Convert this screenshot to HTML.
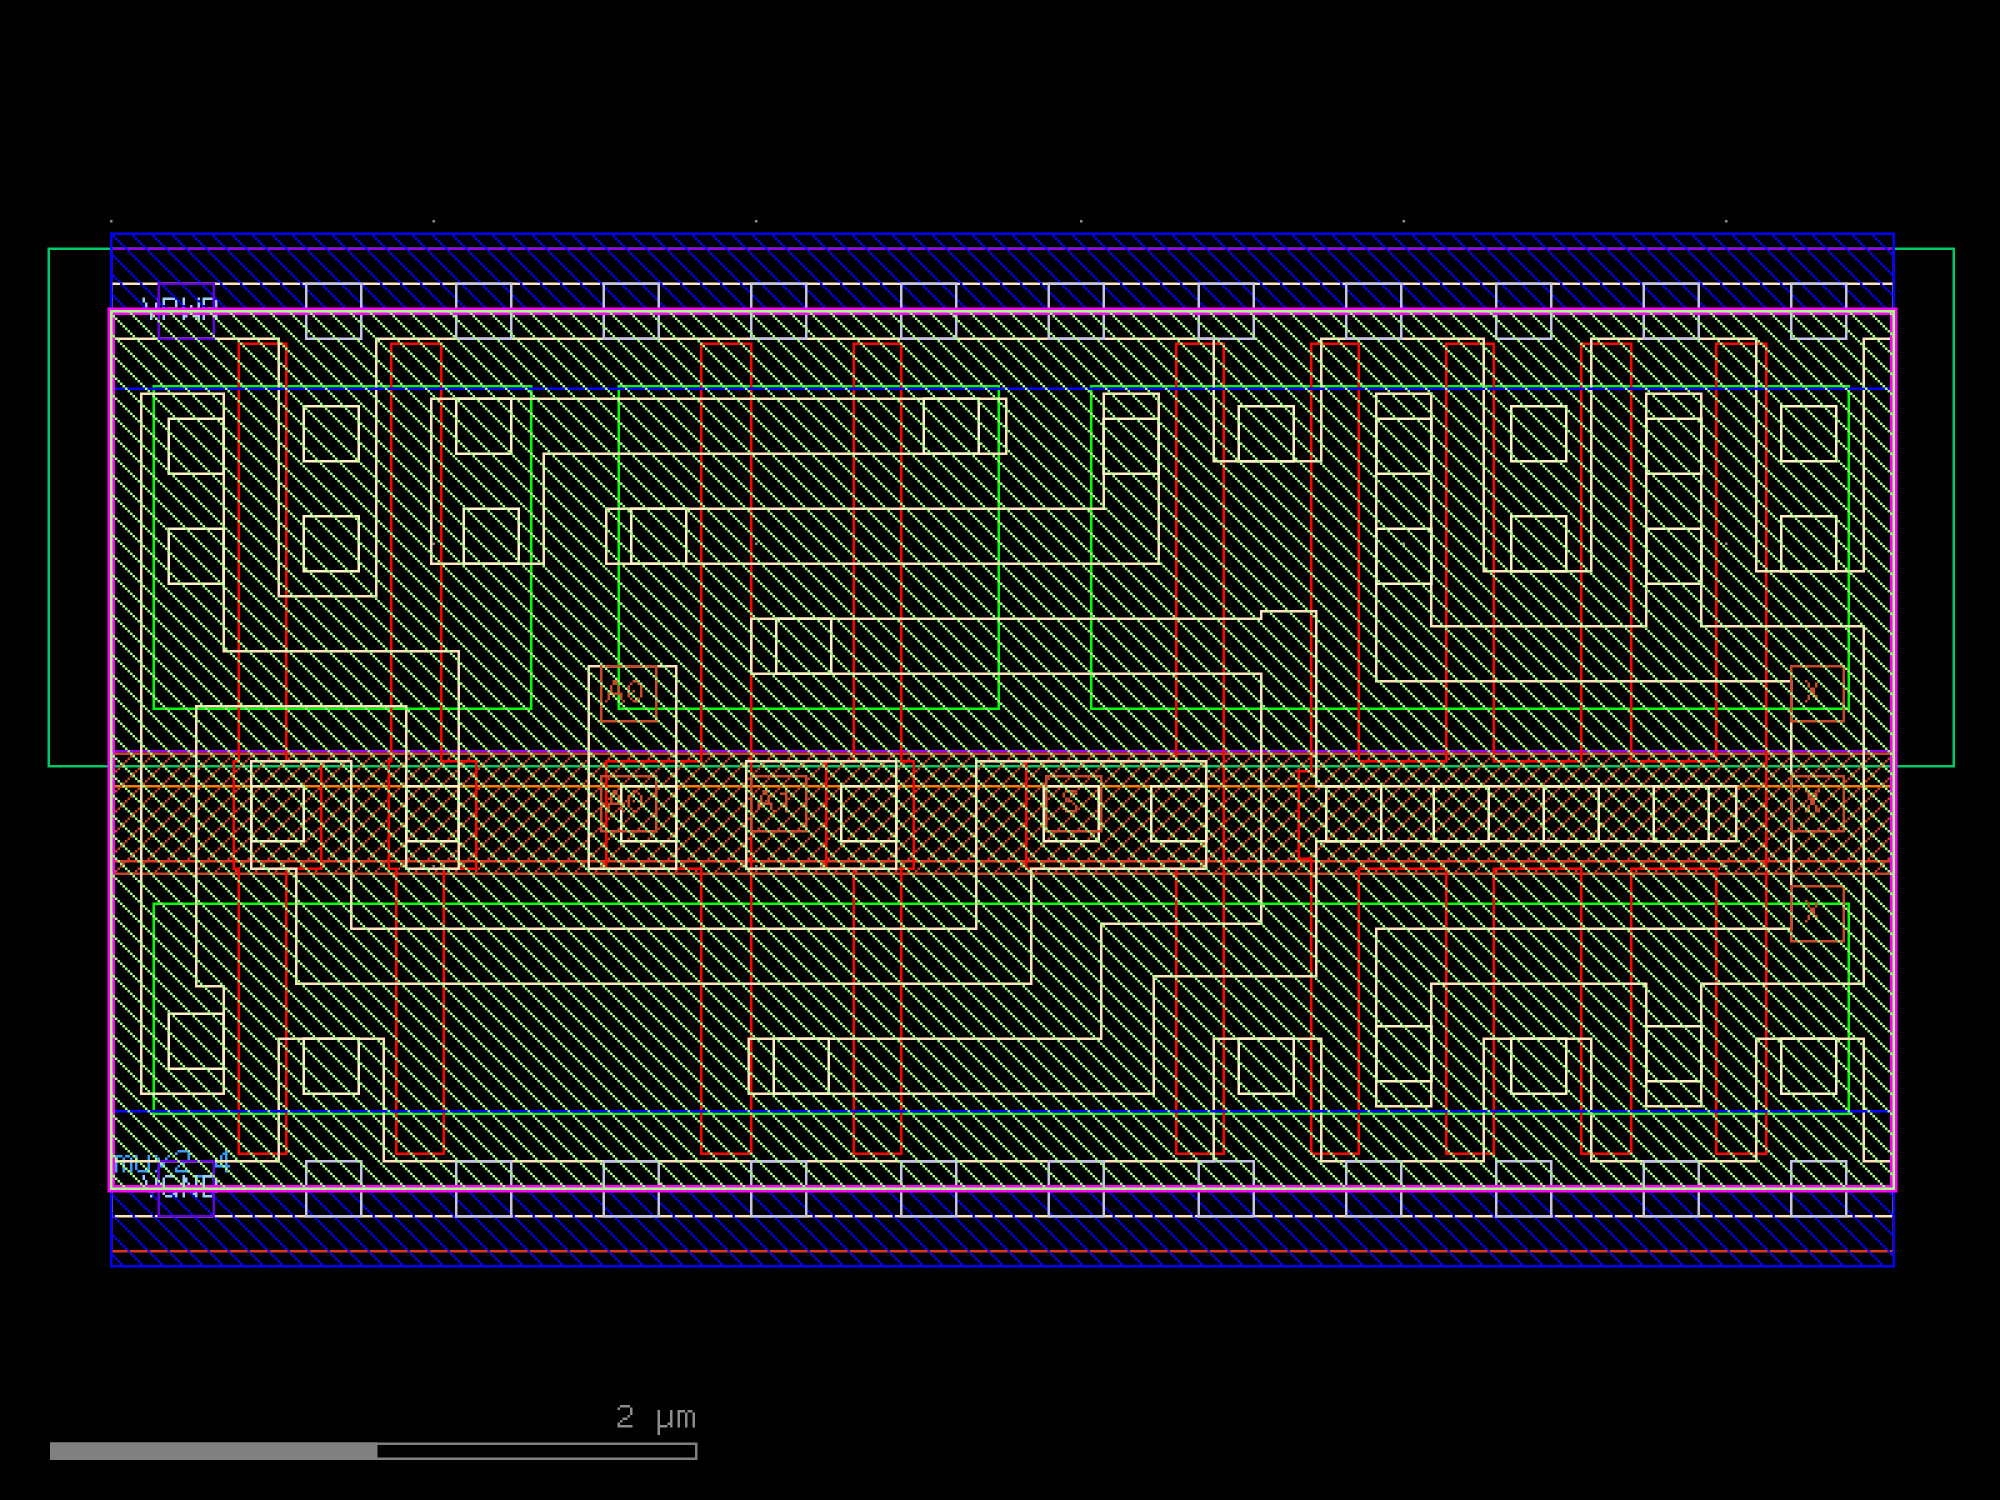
<!DOCTYPE html><html><head><meta charset="utf-8"><title>mux2_4</title><style>html,body{margin:0;padding:0;background:#000;width:2000px;height:1500px;overflow:hidden}svg{display:block}</style></head><body><svg width="2000" height="1500" viewBox="0 0 800 600"><defs><pattern id="hG" patternUnits="userSpaceOnUse" x="0" y="0" width="8" height="8"><rect x="7" y="0" width="1" height="1" fill="#a4ff84"/><rect x="0" y="1" width="1" height="1" fill="#a4ff84"/><rect x="1" y="2" width="1" height="1" fill="#a4ff84"/><rect x="2" y="3" width="1" height="1" fill="#a4ff84"/><rect x="3" y="4" width="1" height="1" fill="#a4ff84"/><rect x="4" y="5" width="1" height="1" fill="#a4ff84"/><rect x="5" y="6" width="1" height="1" fill="#a4ff84"/><rect x="6" y="7" width="1" height="1" fill="#a4ff84"/></pattern><pattern id="hB" patternUnits="userSpaceOnUse" x="0" y="0" width="8" height="8"><rect x="7" y="0" width="1" height="1" fill="#0000ff"/><rect x="0" y="1" width="1" height="1" fill="#0000ff"/><rect x="1" y="2" width="1" height="1" fill="#0000ff"/><rect x="2" y="3" width="1" height="1" fill="#0000ff"/><rect x="3" y="4" width="1" height="1" fill="#0000ff"/><rect x="4" y="5" width="1" height="1" fill="#0000ff"/><rect x="5" y="6" width="1" height="1" fill="#0000ff"/><rect x="6" y="7" width="1" height="1" fill="#0000ff"/></pattern><pattern id="hN" patternUnits="userSpaceOnUse" x="0" y="0" width="8" height="8"><rect x="2" y="0" width="1" height="1" fill="#c4442a"/><rect x="1" y="1" width="1" height="1" fill="#c4442a"/><rect x="0" y="2" width="1" height="1" fill="#c4442a"/><rect x="7" y="3" width="1" height="1" fill="#c4442a"/><rect x="6" y="4" width="1" height="1" fill="#c4442a"/><rect x="5" y="5" width="1" height="1" fill="#c4442a"/><rect x="4" y="6" width="1" height="1" fill="#c4442a"/><rect x="3" y="7" width="1" height="1" fill="#c4442a"/></pattern></defs><rect x="0" y="0" width="800" height="600" fill="#000"/><rect x="44" y="88" width="1" height="1" fill="#8c8c8c"/>
<rect x="44" y="217" width="1" height="1" fill="#8c8c8c"/>
<rect x="44" y="346" width="1" height="1" fill="#8c8c8c"/>
<rect x="173" y="88" width="1" height="1" fill="#8c8c8c"/>
<rect x="173" y="217" width="1" height="1" fill="#8c8c8c"/>
<rect x="173" y="346" width="1" height="1" fill="#8c8c8c"/>
<rect x="302" y="88" width="1" height="1" fill="#8c8c8c"/>
<rect x="302" y="217" width="1" height="1" fill="#8c8c8c"/>
<rect x="302" y="346" width="1" height="1" fill="#8c8c8c"/>
<rect x="432" y="88" width="1" height="1" fill="#8c8c8c"/>
<rect x="432" y="217" width="1" height="1" fill="#8c8c8c"/>
<rect x="432" y="346" width="1" height="1" fill="#8c8c8c"/>
<rect x="561" y="88" width="1" height="1" fill="#8c8c8c"/>
<rect x="561" y="217" width="1" height="1" fill="#8c8c8c"/>
<rect x="561" y="346" width="1" height="1" fill="#8c8c8c"/>
<rect x="690" y="88" width="1" height="1" fill="#8c8c8c"/>
<rect x="690" y="217" width="1" height="1" fill="#8c8c8c"/>
<rect x="690" y="346" width="1" height="1" fill="#8c8c8c"/>
<rect x="19.5" y="99.5" width="762" height="207" fill="none" stroke="#00c864" stroke-width="1"/>
<rect x="44.5" y="99.5" width="713" height="201" fill="none" stroke="#9600e6" stroke-width="1"/>
<rect x="44.5" y="344.5" width="713" height="156" fill="none" stroke="#e0341c" stroke-width="1"/>
<rect x="44" y="314" width="714" height="1" fill="#ff8000"/>
<rect x="44" y="301" width="714" height="49" fill="url(#hN)"/>
<rect x="44.5" y="301.5" width="713" height="48" fill="none" stroke="#c4442a" stroke-width="1"/>
<rect x="61.5" y="154.5" width="151" height="129" fill="none" stroke="#00ff00" stroke-width="1"/>
<rect x="247.5" y="154.5" width="152" height="129" fill="none" stroke="#00ff00" stroke-width="1"/>
<rect x="436.5" y="154.5" width="303" height="129" fill="none" stroke="#00ff00" stroke-width="1"/>
<rect x="61.5" y="361.5" width="678" height="84" fill="none" stroke="#00ff00" stroke-width="1"/>
<polygon points="95.5,137.5 114.5,137.5 114.5,304.5 128.5,304.5 128.5,347.5 114.5,347.5 114.5,461.5 95.5,461.5 95.5,347.5 93.5,347.5 93.5,304.5 95.5,304.5" fill="none" stroke="#ff0000" stroke-width="1"/>
<polygon points="156.5,137.5 176.5,137.5 176.5,304.5 190.5,304.5 190.5,347.5 177.5,347.5 177.5,461.5 158.5,461.5 158.5,347.5 155.5,347.5 155.5,304.5 156.5,304.5" fill="none" stroke="#ff0000" stroke-width="1"/>
<polygon points="280.5,137.5 300.5,137.5 300.5,461.5 280.5,461.5 280.5,347.5 242.5,347.5 242.5,304.5 280.5,304.5" fill="none" stroke="#ff0000" stroke-width="1"/>
<polygon points="341.5,137.5 360.5,137.5 360.5,304.5 365.5,304.5 365.5,347.5 360.5,347.5 360.5,461.5 341.5,461.5 341.5,347.5 330.5,347.5 330.5,304.5 341.5,304.5" fill="none" stroke="#ff0000" stroke-width="1"/>
<polygon points="470.5,137.5 489.5,137.5 489.5,461.5 470.5,461.5 470.5,347.5 410.5,347.5 410.5,304.5 470.5,304.5" fill="none" stroke="#ff0000" stroke-width="1"/>
<polygon points="524.5,137.5 543.5,137.5 543.5,304.5 578.5,304.5 578.5,137.5 597.5,137.5 597.5,304.5 632.5,304.5 632.5,137.5 652.5,137.5 652.5,304.5 686.5,304.5 686.5,137.5 706.5,137.5 706.5,461.5 686.5,461.5 686.5,347.5 652.5,347.5 652.5,461.5 632.5,461.5 632.5,347.5 597.5,347.5 597.5,461.5 578.5,461.5 578.5,347.5 543.5,347.5 543.5,461.5 524.5,461.5 524.5,343.5 519.5,343.5 519.5,308.5 524.5,308.5" fill="none" stroke="#ff0000" stroke-width="1"/>
<path d="M46 462h1v1h-1zM47 462h1v1h-1zM48 462h1v1h-1zM50 462h1v1h-1zM51 462h1v1h-1zM46 463h1v1h-1zM49 463h1v1h-1zM52 463h1v1h-1zM46 464h1v1h-1zM49 464h1v1h-1zM52 464h1v1h-1zM46 465h1v1h-1zM49 465h1v1h-1zM52 465h1v1h-1zM46 466h1v1h-1zM49 466h1v1h-1zM52 466h1v1h-1zM46 467h1v1h-1zM49 467h1v1h-1zM52 467h1v1h-1zM46 468h1v1h-1zM49 468h1v1h-1zM52 468h1v1h-1zM54 462h1v1h-1zM59 462h1v1h-1zM54 463h1v1h-1zM59 463h1v1h-1zM54 464h1v1h-1zM59 464h1v1h-1zM54 465h1v1h-1zM59 465h1v1h-1zM54 466h1v1h-1zM59 466h1v1h-1zM54 467h1v1h-1zM59 467h1v1h-1zM55 468h1v1h-1zM56 468h1v1h-1zM57 468h1v1h-1zM58 468h1v1h-1zM59 468h1v1h-1zM62 462h1v1h-1zM67 462h1v1h-1zM63 463h1v1h-1zM66 463h1v1h-1zM64 464h1v1h-1zM65 464h1v1h-1zM64 465h1v1h-1zM65 465h1v1h-1zM64 466h1v1h-1zM65 466h1v1h-1zM63 467h1v1h-1zM66 467h1v1h-1zM62 468h1v1h-1zM67 468h1v1h-1zM71 460h1v1h-1zM72 460h1v1h-1zM73 460h1v1h-1zM74 460h1v1h-1zM70 461h1v1h-1zM75 461h1v1h-1zM75 462h1v1h-1zM75 463h1v1h-1zM74 464h1v1h-1zM72 465h1v1h-1zM73 465h1v1h-1zM71 466h1v1h-1zM70 467h1v1h-1zM70 468h1v1h-1zM71 468h1v1h-1zM72 468h1v1h-1zM73 468h1v1h-1zM74 468h1v1h-1zM75 468h1v1h-1zM78 470h1v1h-1zM79 470h1v1h-1zM80 470h1v1h-1zM81 470h1v1h-1zM82 470h1v1h-1zM83 470h1v1h-1zM84 470h1v1h-1zM90 460h1v1h-1zM89 461h1v1h-1zM90 461h1v1h-1zM88 462h1v1h-1zM90 462h1v1h-1zM88 463h1v1h-1zM90 463h1v1h-1zM87 464h1v1h-1zM90 464h1v1h-1zM86 465h1v1h-1zM90 465h1v1h-1zM86 466h1v1h-1zM87 466h1v1h-1zM88 466h1v1h-1zM89 466h1v1h-1zM90 466h1v1h-1zM91 466h1v1h-1zM90 467h1v1h-1zM90 468h1v1h-1z" fill="#3a9cff"/>
<path d="M57 119h1v1h-1zM63 119h1v1h-1zM57 120h1v1h-1zM63 120h1v1h-1zM58 121h1v1h-1zM62 121h1v1h-1zM58 122h1v1h-1zM62 122h1v1h-1zM58 123h1v1h-1zM62 123h1v1h-1zM59 124h1v1h-1zM61 124h1v1h-1zM59 125h1v1h-1zM61 125h1v1h-1zM60 126h1v1h-1zM60 127h1v1h-1zM65 119h1v1h-1zM66 119h1v1h-1zM67 119h1v1h-1zM68 119h1v1h-1zM69 119h1v1h-1zM65 120h1v1h-1zM70 120h1v1h-1zM65 121h1v1h-1zM70 121h1v1h-1zM65 122h1v1h-1zM70 122h1v1h-1zM65 123h1v1h-1zM66 123h1v1h-1zM67 123h1v1h-1zM68 123h1v1h-1zM69 123h1v1h-1zM65 124h1v1h-1zM65 125h1v1h-1zM65 126h1v1h-1zM65 127h1v1h-1zM73 119h1v1h-1zM79 119h1v1h-1zM73 120h1v1h-1zM79 120h1v1h-1zM73 121h1v1h-1zM79 121h1v1h-1zM73 122h1v1h-1zM76 122h1v1h-1zM79 122h1v1h-1zM73 123h1v1h-1zM76 123h1v1h-1zM79 123h1v1h-1zM73 124h1v1h-1zM76 124h1v1h-1zM79 124h1v1h-1zM73 125h1v1h-1zM75 125h1v1h-1zM77 125h1v1h-1zM79 125h1v1h-1zM73 126h1v1h-1zM74 126h1v1h-1zM78 126h1v1h-1zM79 126h1v1h-1zM73 127h1v1h-1zM79 127h1v1h-1zM81 119h1v1h-1zM82 119h1v1h-1zM83 119h1v1h-1zM84 119h1v1h-1zM85 119h1v1h-1zM81 120h1v1h-1zM86 120h1v1h-1zM81 121h1v1h-1zM86 121h1v1h-1zM81 122h1v1h-1zM86 122h1v1h-1zM81 123h1v1h-1zM82 123h1v1h-1zM83 123h1v1h-1zM84 123h1v1h-1zM85 123h1v1h-1zM81 124h1v1h-1zM84 124h1v1h-1zM81 125h1v1h-1zM85 125h1v1h-1zM81 126h1v1h-1zM86 126h1v1h-1zM81 127h1v1h-1zM86 127h1v1h-1z" fill="#9ccfff"/>
<path d="M57 470h1v1h-1zM63 470h1v1h-1zM57 471h1v1h-1zM63 471h1v1h-1zM58 472h1v1h-1zM62 472h1v1h-1zM58 473h1v1h-1zM62 473h1v1h-1zM58 474h1v1h-1zM62 474h1v1h-1zM59 475h1v1h-1zM61 475h1v1h-1zM59 476h1v1h-1zM61 476h1v1h-1zM60 477h1v1h-1zM60 478h1v1h-1zM66 470h1v1h-1zM67 470h1v1h-1zM68 470h1v1h-1zM69 470h1v1h-1zM65 471h1v1h-1zM70 471h1v1h-1zM65 472h1v1h-1zM65 473h1v1h-1zM65 474h1v1h-1zM68 474h1v1h-1zM69 474h1v1h-1zM70 474h1v1h-1zM65 475h1v1h-1zM70 475h1v1h-1zM65 476h1v1h-1zM70 476h1v1h-1zM65 477h1v1h-1zM69 477h1v1h-1zM70 477h1v1h-1zM66 478h1v1h-1zM67 478h1v1h-1zM68 478h1v1h-1zM70 478h1v1h-1zM73 470h1v1h-1zM78 470h1v1h-1zM73 471h1v1h-1zM74 471h1v1h-1zM78 471h1v1h-1zM73 472h1v1h-1zM74 472h1v1h-1zM78 472h1v1h-1zM73 473h1v1h-1zM75 473h1v1h-1zM78 473h1v1h-1zM73 474h1v1h-1zM75 474h1v1h-1zM78 474h1v1h-1zM73 475h1v1h-1zM76 475h1v1h-1zM78 475h1v1h-1zM73 476h1v1h-1zM76 476h1v1h-1zM78 476h1v1h-1zM73 477h1v1h-1zM77 477h1v1h-1zM78 477h1v1h-1zM73 478h1v1h-1zM78 478h1v1h-1zM81 470h1v1h-1zM82 470h1v1h-1zM83 470h1v1h-1zM84 470h1v1h-1zM81 471h1v1h-1zM85 471h1v1h-1zM81 472h1v1h-1zM86 472h1v1h-1zM81 473h1v1h-1zM86 473h1v1h-1zM81 474h1v1h-1zM86 474h1v1h-1zM81 475h1v1h-1zM86 475h1v1h-1zM81 476h1v1h-1zM86 476h1v1h-1zM81 477h1v1h-1zM85 477h1v1h-1zM81 478h1v1h-1zM82 478h1v1h-1zM83 478h1v1h-1zM84 478h1v1h-1z" fill="#9ccfff"/>
<polygon points="44.5,113.5 757.5,113.5 757.5,135.5 745.5,135.5 745.5,228.5 702.5,228.5 702.5,135.5 636.5,135.5 636.5,228.5 593.5,228.5 593.5,135.5 528.5,135.5 528.5,184.5 485.5,184.5 485.5,135.5 150.5,135.5 150.5,238.5 111.5,238.5 111.5,135.5 44.5,135.5" fill="none" stroke="#ffe4bc" stroke-width="1"/>
<polygon points="44.5,486.5 757.5,486.5 757.5,464.5 745.5,464.5 745.5,415.5 702.5,415.5 702.5,464.5 636.5,464.5 636.5,415.5 593.5,415.5 593.5,464.5 528.5,464.5 528.5,415.5 485.5,415.5 485.5,464.5 153.5,464.5 153.5,415.5 111.5,415.5 111.5,464.5 44.5,464.5" fill="none" stroke="#ffe4bc" stroke-width="1"/>
<polygon points="56.5,157.5 89.5,157.5 89.5,260.5 183.5,260.5 183.5,347.5 162.5,347.5 162.5,282.5 78.5,282.5 78.5,394.5 89.5,394.5 89.5,437.5 56.5,437.5" fill="none" stroke="#ffe4bc" stroke-width="1"/>
<polygon points="172.5,159.5 402.5,159.5 402.5,181.5 217.5,181.5 217.5,225.5 172.5,225.5" fill="none" stroke="#ffe4bc" stroke-width="1"/>
<polygon points="242.5,203.5 441.5,203.5 441.5,157.5 463.5,157.5 463.5,225.5 242.5,225.5" fill="none" stroke="#ffe4bc" stroke-width="1"/>
<polygon points="100.5,304.5 140.5,304.5 140.5,371.5 390.5,371.5 390.5,304.5 482.5,304.5 482.5,347.5 412.5,347.5 412.5,393.5 118.5,393.5 118.5,347.5 100.5,347.5" fill="none" stroke="#ffe4bc" stroke-width="1"/>
<polygon points="298.5,304.5 358.5,304.5 358.5,347.5 298.5,347.5" fill="none" stroke="#ffe4bc" stroke-width="1"/>
<polygon points="235.5,266.5 270.5,266.5 270.5,347.5 235.5,347.5" fill="none" stroke="#ffe4bc" stroke-width="1"/>
<polygon points="300.5,247.5 504.5,247.5 504.5,244.5 526.5,244.5 526.5,314.5 694.5,314.5 694.5,336.5 526.5,336.5 526.5,390.5 461.5,390.5 461.5,437.5 299.5,437.5 299.5,415.5 440.5,415.5 440.5,369.5 504.5,369.5 504.5,269.5 300.5,269.5" fill="none" stroke="#ffe4bc" stroke-width="1"/>
<polygon points="550.5,157.5 572.5,157.5 572.5,250.5 658.5,250.5 658.5,157.5 680.5,157.5 680.5,250.5 745.5,250.5 745.5,393.5 680.5,393.5 680.5,442.5 658.5,442.5 658.5,393.5 572.5,393.5 572.5,442.5 550.5,442.5 550.5,371.5 716.5,371.5 716.5,272.5 550.5,272.5" fill="none" stroke="#ffe4bc" stroke-width="1"/>
<rect x="67.5" y="167.5" width="22" height="22" fill="none" stroke="#fff2c4" stroke-width="1"/>
<rect x="67.5" y="211.5" width="22" height="22" fill="none" stroke="#fff2c4" stroke-width="1"/>
<rect x="121.5" y="162.5" width="22" height="22" fill="none" stroke="#fff2c4" stroke-width="1"/>
<rect x="121.5" y="206.5" width="22" height="22" fill="none" stroke="#fff2c4" stroke-width="1"/>
<rect x="182.5" y="159.5" width="22" height="22" fill="none" stroke="#fff2c4" stroke-width="1"/>
<rect x="185.5" y="203.5" width="22" height="22" fill="none" stroke="#fff2c4" stroke-width="1"/>
<rect x="252.5" y="203.5" width="22" height="22" fill="none" stroke="#fff2c4" stroke-width="1"/>
<rect x="369.5" y="159.5" width="22" height="22" fill="none" stroke="#fff2c4" stroke-width="1"/>
<rect x="441.5" y="167.5" width="22" height="22" fill="none" stroke="#fff2c4" stroke-width="1"/>
<rect x="495.5" y="162.5" width="22" height="22" fill="none" stroke="#fff2c4" stroke-width="1"/>
<rect x="550.5" y="167.5" width="22" height="22" fill="none" stroke="#fff2c4" stroke-width="1"/>
<rect x="550.5" y="211.5" width="22" height="22" fill="none" stroke="#fff2c4" stroke-width="1"/>
<rect x="604.5" y="162.5" width="22" height="22" fill="none" stroke="#fff2c4" stroke-width="1"/>
<rect x="604.5" y="206.5" width="22" height="22" fill="none" stroke="#fff2c4" stroke-width="1"/>
<rect x="658.5" y="167.5" width="22" height="22" fill="none" stroke="#fff2c4" stroke-width="1"/>
<rect x="658.5" y="211.5" width="22" height="22" fill="none" stroke="#fff2c4" stroke-width="1"/>
<rect x="712.5" y="162.5" width="22" height="22" fill="none" stroke="#fff2c4" stroke-width="1"/>
<rect x="712.5" y="206.5" width="22" height="22" fill="none" stroke="#fff2c4" stroke-width="1"/>
<rect x="310.5" y="247.5" width="22" height="22" fill="none" stroke="#fff2c4" stroke-width="1"/>
<rect x="100.5" y="314.5" width="21" height="22" fill="none" stroke="#fff2c4" stroke-width="1"/>
<rect x="162.5" y="314.5" width="21" height="22" fill="none" stroke="#fff2c4" stroke-width="1"/>
<rect x="248.5" y="314.5" width="22" height="22" fill="none" stroke="#fff2c4" stroke-width="1"/>
<rect x="336.5" y="314.5" width="22" height="22" fill="none" stroke="#fff2c4" stroke-width="1"/>
<rect x="417.5" y="314.5" width="22" height="22" fill="none" stroke="#fff2c4" stroke-width="1"/>
<rect x="460.5" y="314.5" width="22" height="22" fill="none" stroke="#fff2c4" stroke-width="1"/>
<rect x="530.5" y="314.5" width="22" height="22" fill="none" stroke="#fff2c4" stroke-width="1"/>
<rect x="573.5" y="314.5" width="22" height="22" fill="none" stroke="#fff2c4" stroke-width="1"/>
<rect x="617.5" y="314.5" width="22" height="22" fill="none" stroke="#fff2c4" stroke-width="1"/>
<rect x="661.5" y="314.5" width="22" height="22" fill="none" stroke="#fff2c4" stroke-width="1"/>
<rect x="67.5" y="405.5" width="22" height="22" fill="none" stroke="#fff2c4" stroke-width="1"/>
<rect x="121.5" y="415.5" width="22" height="22" fill="none" stroke="#fff2c4" stroke-width="1"/>
<rect x="309.5" y="415.5" width="22" height="22" fill="none" stroke="#fff2c4" stroke-width="1"/>
<rect x="495.5" y="415.5" width="22" height="22" fill="none" stroke="#fff2c4" stroke-width="1"/>
<rect x="550.5" y="410.5" width="22" height="22" fill="none" stroke="#fff2c4" stroke-width="1"/>
<rect x="604.5" y="415.5" width="22" height="22" fill="none" stroke="#fff2c4" stroke-width="1"/>
<rect x="658.5" y="410.5" width="22" height="22" fill="none" stroke="#fff2c4" stroke-width="1"/>
<rect x="712.5" y="415.5" width="22" height="22" fill="none" stroke="#fff2c4" stroke-width="1"/>
<rect x="44" y="93" width="714" height="31" fill="url(#hB)"/>
<rect x="44.5" y="93.5" width="713" height="62" fill="none" stroke="#0000ff" stroke-width="1"/>
<rect x="44" y="476" width="714" height="31" fill="url(#hB)"/>
<rect x="44.5" y="444.5" width="713" height="62" fill="none" stroke="#0000ff" stroke-width="1"/>
<rect x="122.5" y="113.5" width="22" height="22" fill="none" stroke="#c4c4e4" stroke-width="1"/>
<rect x="122.5" y="464.5" width="22" height="22" fill="none" stroke="#c4c4e4" stroke-width="1"/>
<rect x="182.5" y="113.5" width="22" height="22" fill="none" stroke="#c4c4e4" stroke-width="1"/>
<rect x="182.5" y="464.5" width="22" height="22" fill="none" stroke="#c4c4e4" stroke-width="1"/>
<rect x="241.5" y="113.5" width="22" height="22" fill="none" stroke="#c4c4e4" stroke-width="1"/>
<rect x="241.5" y="464.5" width="22" height="22" fill="none" stroke="#c4c4e4" stroke-width="1"/>
<rect x="300.5" y="113.5" width="22" height="22" fill="none" stroke="#c4c4e4" stroke-width="1"/>
<rect x="300.5" y="464.5" width="22" height="22" fill="none" stroke="#c4c4e4" stroke-width="1"/>
<rect x="360.5" y="113.5" width="22" height="22" fill="none" stroke="#c4c4e4" stroke-width="1"/>
<rect x="360.5" y="464.5" width="22" height="22" fill="none" stroke="#c4c4e4" stroke-width="1"/>
<rect x="419.5" y="113.5" width="22" height="22" fill="none" stroke="#c4c4e4" stroke-width="1"/>
<rect x="419.5" y="464.5" width="22" height="22" fill="none" stroke="#c4c4e4" stroke-width="1"/>
<rect x="479.5" y="113.5" width="22" height="22" fill="none" stroke="#c4c4e4" stroke-width="1"/>
<rect x="479.5" y="464.5" width="22" height="22" fill="none" stroke="#c4c4e4" stroke-width="1"/>
<rect x="538.5" y="113.5" width="22" height="22" fill="none" stroke="#c4c4e4" stroke-width="1"/>
<rect x="538.5" y="464.5" width="22" height="22" fill="none" stroke="#c4c4e4" stroke-width="1"/>
<rect x="598.5" y="113.5" width="22" height="22" fill="none" stroke="#c4c4e4" stroke-width="1"/>
<rect x="598.5" y="464.5" width="22" height="22" fill="none" stroke="#c4c4e4" stroke-width="1"/>
<rect x="657.5" y="113.5" width="22" height="22" fill="none" stroke="#c4c4e4" stroke-width="1"/>
<rect x="657.5" y="464.5" width="22" height="22" fill="none" stroke="#c4c4e4" stroke-width="1"/>
<rect x="716.5" y="113.5" width="22" height="22" fill="none" stroke="#c4c4e4" stroke-width="1"/>
<rect x="716.5" y="464.5" width="22" height="22" fill="none" stroke="#c4c4e4" stroke-width="1"/>
<rect x="63.5" y="113.5" width="22" height="22" fill="none" stroke="#6400e0" stroke-width="1"/>
<rect x="63.5" y="464.5" width="22" height="22" fill="none" stroke="#6400e0" stroke-width="1"/>
<rect x="240.5" y="266.5" width="22" height="22" fill="none" stroke="#c44a2a" stroke-width="1"/>
<path d="M245 272h1v1h-1zM246 272h1v1h-1zM245 273h1v1h-1zM246 273h1v1h-1zM244 274h1v1h-1zM247 274h1v1h-1zM244 275h1v1h-1zM247 275h1v1h-1zM244 276h1v1h-1zM247 276h1v1h-1zM243 277h1v1h-1zM244 277h1v1h-1zM245 277h1v1h-1zM246 277h1v1h-1zM247 277h1v1h-1zM248 277h1v1h-1zM243 278h1v1h-1zM248 278h1v1h-1zM243 279h1v1h-1zM248 279h1v1h-1zM242 280h1v1h-1zM249 280h1v1h-1zM253 272h1v1h-1zM254 272h1v1h-1zM252 273h1v1h-1zM255 273h1v1h-1zM251 274h1v1h-1zM256 274h1v1h-1zM251 275h1v1h-1zM256 275h1v1h-1zM251 276h1v1h-1zM253 276h1v1h-1zM256 276h1v1h-1zM251 277h1v1h-1zM256 277h1v1h-1zM251 278h1v1h-1zM256 278h1v1h-1zM252 279h1v1h-1zM255 279h1v1h-1zM253 280h1v1h-1zM254 280h1v1h-1z" fill="#c44a2a"/>
<rect x="240.5" y="310.5" width="22" height="22" fill="none" stroke="#c44a2a" stroke-width="1"/>
<path d="M245 316h1v1h-1zM246 316h1v1h-1zM245 317h1v1h-1zM246 317h1v1h-1zM244 318h1v1h-1zM247 318h1v1h-1zM244 319h1v1h-1zM247 319h1v1h-1zM244 320h1v1h-1zM247 320h1v1h-1zM243 321h1v1h-1zM244 321h1v1h-1zM245 321h1v1h-1zM246 321h1v1h-1zM247 321h1v1h-1zM248 321h1v1h-1zM243 322h1v1h-1zM248 322h1v1h-1zM243 323h1v1h-1zM248 323h1v1h-1zM242 324h1v1h-1zM249 324h1v1h-1zM253 316h1v1h-1zM254 316h1v1h-1zM252 317h1v1h-1zM255 317h1v1h-1zM251 318h1v1h-1zM256 318h1v1h-1zM251 319h1v1h-1zM256 319h1v1h-1zM251 320h1v1h-1zM253 320h1v1h-1zM256 320h1v1h-1zM251 321h1v1h-1zM256 321h1v1h-1zM251 322h1v1h-1zM256 322h1v1h-1zM252 323h1v1h-1zM255 323h1v1h-1zM253 324h1v1h-1zM254 324h1v1h-1z" fill="#c44a2a"/>
<rect x="300.5" y="310.5" width="22" height="22" fill="none" stroke="#c44a2a" stroke-width="1"/>
<path d="M305 316h1v1h-1zM306 316h1v1h-1zM305 317h1v1h-1zM306 317h1v1h-1zM304 318h1v1h-1zM307 318h1v1h-1zM304 319h1v1h-1zM307 319h1v1h-1zM304 320h1v1h-1zM307 320h1v1h-1zM303 321h1v1h-1zM304 321h1v1h-1zM305 321h1v1h-1zM306 321h1v1h-1zM307 321h1v1h-1zM308 321h1v1h-1zM303 322h1v1h-1zM308 322h1v1h-1zM303 323h1v1h-1zM308 323h1v1h-1zM302 324h1v1h-1zM309 324h1v1h-1zM314 316h1v1h-1zM312 317h1v1h-1zM313 317h1v1h-1zM314 317h1v1h-1zM314 318h1v1h-1zM314 319h1v1h-1zM314 320h1v1h-1zM314 321h1v1h-1zM314 322h1v1h-1zM314 323h1v1h-1zM314 324h1v1h-1z" fill="#c44a2a"/>
<rect x="418.5" y="310.5" width="22" height="22" fill="none" stroke="#c44a2a" stroke-width="1"/>
<path d="M426 316h1v1h-1zM427 316h1v1h-1zM428 316h1v1h-1zM429 316h1v1h-1zM425 317h1v1h-1zM430 317h1v1h-1zM425 318h1v1h-1zM426 319h1v1h-1zM427 320h1v1h-1zM428 320h1v1h-1zM429 321h1v1h-1zM430 322h1v1h-1zM425 323h1v1h-1zM430 323h1v1h-1zM426 324h1v1h-1zM427 324h1v1h-1zM428 324h1v1h-1zM429 324h1v1h-1z" fill="#c44a2a"/>
<rect x="716.5" y="266.5" width="21" height="22" fill="none" stroke="#c44a2a" stroke-width="1"/>
<path d="M722 272h1v1h-1zM727 272h1v1h-1zM723 273h1v1h-1zM726 273h1v1h-1zM723 274h1v1h-1zM726 274h1v1h-1zM724 275h1v1h-1zM725 275h1v1h-1zM724 276h1v1h-1zM725 276h1v1h-1zM724 277h1v1h-1zM725 277h1v1h-1zM723 278h1v1h-1zM726 278h1v1h-1zM723 279h1v1h-1zM726 279h1v1h-1zM722 280h1v1h-1zM727 280h1v1h-1z" fill="#c44a2a"/>
<rect x="716.5" y="310.5" width="21" height="22" fill="none" stroke="#c44a2a" stroke-width="1"/>
<path d="M722 316h1v1h-1zM727 316h1v1h-1zM723 317h1v1h-1zM726 317h1v1h-1zM723 318h1v1h-1zM726 318h1v1h-1zM724 319h1v1h-1zM725 319h1v1h-1zM724 320h1v1h-1zM725 320h1v1h-1zM724 321h1v1h-1zM725 321h1v1h-1zM723 322h1v1h-1zM726 322h1v1h-1zM723 323h1v1h-1zM726 323h1v1h-1zM722 324h1v1h-1zM727 324h1v1h-1z" fill="#c44a2a"/>
<rect x="716.5" y="354.5" width="21" height="22" fill="none" stroke="#c44a2a" stroke-width="1"/>
<path d="M722 360h1v1h-1zM727 360h1v1h-1zM723 361h1v1h-1zM726 361h1v1h-1zM723 362h1v1h-1zM726 362h1v1h-1zM724 363h1v1h-1zM725 363h1v1h-1zM724 364h1v1h-1zM725 364h1v1h-1zM724 365h1v1h-1zM725 365h1v1h-1zM723 366h1v1h-1zM726 366h1v1h-1zM723 367h1v1h-1zM726 367h1v1h-1zM722 368h1v1h-1zM727 368h1v1h-1z" fill="#c44a2a"/>
<rect x="44.5" y="124.5" width="713" height="351" fill="none" stroke="#ff00ff" stroke-width="3"/>
<rect x="44" y="124" width="714" height="352" fill="url(#hG)"/>
<rect x="44.5" y="124.5" width="713" height="351" fill="none" stroke="#a4ff84" stroke-width="1"/>
<rect x="20" y="577" width="131" height="7" fill="#808080"/>
<rect x="20.5" y="577.5" width="258" height="6" fill="none" stroke="#808080" stroke-width="1"/>
<path d="M248 562h1v1h-1zM249 562h1v1h-1zM250 562h1v1h-1zM251 562h1v1h-1zM247 563h1v1h-1zM252 563h1v1h-1zM252 564h1v1h-1zM252 565h1v1h-1zM251 566h1v1h-1zM249 567h1v1h-1zM250 567h1v1h-1zM248 568h1v1h-1zM247 569h1v1h-1zM247 570h1v1h-1zM248 570h1v1h-1zM249 570h1v1h-1zM250 570h1v1h-1zM251 570h1v1h-1zM252 570h1v1h-1zM263 564h1v1h-1zM268 564h1v1h-1zM263 565h1v1h-1zM268 565h1v1h-1zM263 566h1v1h-1zM268 566h1v1h-1zM263 567h1v1h-1zM268 567h1v1h-1zM263 568h1v1h-1zM268 568h1v1h-1zM263 569h1v1h-1zM267 569h1v1h-1zM268 569h1v1h-1zM263 570h1v1h-1zM264 570h1v1h-1zM265 570h1v1h-1zM266 570h1v1h-1zM268 570h1v1h-1zM263 571h1v1h-1zM263 572h1v1h-1zM263 573h1v1h-1zM271 564h1v1h-1zM272 564h1v1h-1zM273 564h1v1h-1zM275 564h1v1h-1zM276 564h1v1h-1zM271 565h1v1h-1zM274 565h1v1h-1zM277 565h1v1h-1zM271 566h1v1h-1zM274 566h1v1h-1zM277 566h1v1h-1zM271 567h1v1h-1zM274 567h1v1h-1zM277 567h1v1h-1zM271 568h1v1h-1zM274 568h1v1h-1zM277 568h1v1h-1zM271 569h1v1h-1zM274 569h1v1h-1zM277 569h1v1h-1zM271 570h1v1h-1zM274 570h1v1h-1zM277 570h1v1h-1z" fill="#8c8c8c"/></svg></body></html>
